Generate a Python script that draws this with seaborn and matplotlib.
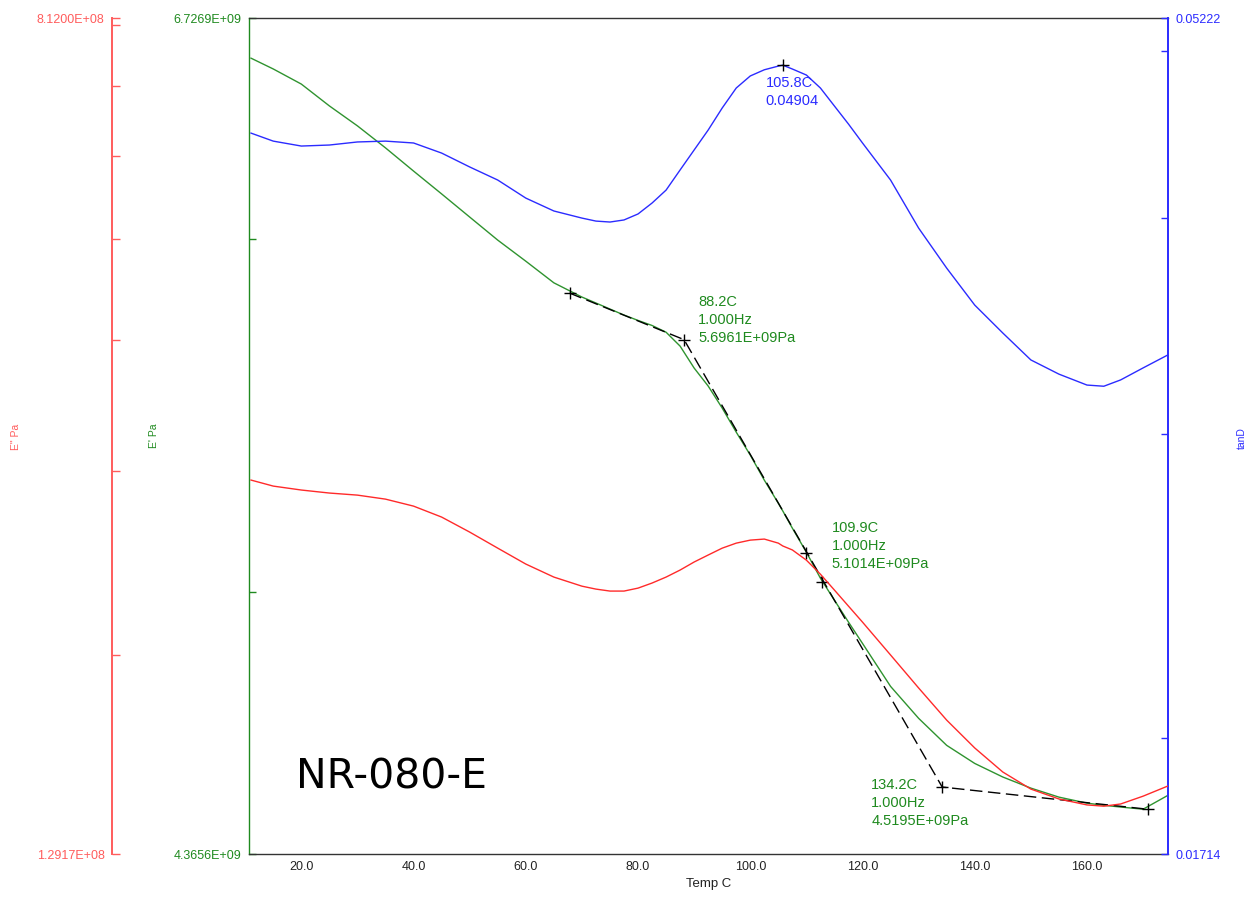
import matplotlib
matplotlib.use("Agg")
import matplotlib.pyplot as plt
import pandas as pd
import seaborn as sns
from matplotlib.ticker import FixedLocator, FixedFormatter, NullLocator

# ---------------- data ----------------
temp_c = [11, 15, 20, 25, 30, 35, 40, 45, 50, 55, 60, 65, 70, 72.5, 75, 77.5, 80,
          82.5, 85, 87.5, 90, 92.5, 95, 97.5, 100, 102.5, 105, 105.8, 107.5, 110,
          112.5, 115, 117.5, 120, 125, 130, 135, 140, 145, 150, 155, 160, 163, 166,
          170, 174.4]
storage_modulus_pa = [6.589e9, 6.552e9, 6.501e9, 6.428e9, 6.362e9, 6.290e9, 6.215e9,
                      6.142e9, 6.069e9, 5.997e9, 5.932e9, 5.866e9, 5.823e9, 5.805e9,
                      5.787e9, 5.769e9, 5.753e9, 5.738e9, 5.718e9, 5.677e9, 5.613e9,
                      5.561e9, 5.498e9, 5.430e9, 5.366e9, 5.297e9, 5.234e9, 5.213e9,
                      5.167e9, 5.103e9, 5.035e9, 4.978e9, 4.922e9, 4.868e9, 4.761e9,
                      4.683e9, 4.618e9, 4.575e9, 4.543e9, 4.517e9, 4.496e9, 4.482e9,
                      4.477e9, 4.473e9, 4.468e9, 4.500e9]
loss_modulus_pa = [2.940e8, 2.901e8, 2.876e8, 2.857e8, 2.844e8, 2.819e8, 2.776e8,
                   2.710e8, 2.622e8, 2.531e8, 2.444e8, 2.375e8, 2.328e8, 2.313e8,
                   2.303e8, 2.303e8, 2.318e8, 2.344e8, 2.375e8, 2.412e8, 2.455e8,
                   2.493e8, 2.531e8, 2.559e8, 2.576e8, 2.582e8, 2.559e8, 2.543e8,
                   2.521e8, 2.465e8, 2.390e8, 2.308e8, 2.228e8, 2.151e8, 2.001e8,
                   1.861e8, 1.734e8, 1.631e8, 1.547e8, 1.490e8, 1.458e8, 1.439e8,
                   1.435e8, 1.442e8, 1.467e8, 1.500e8]
tan_delta = [0.04480, 0.04432, 0.04403, 0.04409, 0.04427, 0.04432, 0.04421, 0.04362,
             0.04282, 0.04208, 0.04108, 0.04038, 0.04000, 0.03984, 0.03979, 0.03990,
             0.04022, 0.04081, 0.04152, 0.04265, 0.04380, 0.04498, 0.04632, 0.04757,
             0.04834, 0.04874, 0.04898, 0.04904, 0.04879, 0.04840, 0.04757, 0.04644,
             0.04534, 0.04421, 0.04208, 0.03947, 0.03742, 0.03562, 0.03432, 0.03311,
             0.03249, 0.03202, 0.03197, 0.03224, 0.03276, 0.03333]

# tangent-line onset construction on E'
onset_line_temp_c = [67.8, 88.2, 134.2, 170.8]
onset_line_pa = [5.835e9, 5.6961e9, 4.5195e9, 4.468e9]
marker_temp_c = [67.8, 88.2, 109.9, 112.8, 134.2, 170.8]
marker_pa = [5.835e9, 5.6961e9, 5.1014e9, 5.024e9, 4.5195e9, 4.468e9]
peak_temp_c = [105.8]
peak_tan = [0.04904]

onset_labels = ["88.2C\n1.000Hz\n5.6961E+09Pa",
                "109.9C\n1.000Hz\n5.1014E+09Pa",
                "134.2C\n1.000Hz\n4.5195E+09Pa"]
onset_label_temp_c = [88.2, 109.9, 134.2]
onset_label_pa = [5.6961e9, 5.1014e9, 4.5195e9]
peak_label = "105.8C\n0.04904"

x_limits = (10.73, 174.5)
x_ticks = [20, 40, 60, 80, 100, 120, 140, 160]
x_tick_labels = ["20.0", "40.0", "60.0", "80.0", "100.0", "120.0", "140.0", "160.0"]
storage_limits = (4.3656e9, 6.7269e9)
storage_ticks = [4.3656e9, 5e9, 6e9, 6.7269e9]
storage_tick_labels = ["4.3656E+09", "", "", "6.7269E+09"]
loss_limits = (1.2917e8, 8.12e8)
loss_ticks = [1.2917e8, 2e8, 3e8, 4e8, 5e8, 6e8, 7e8, 8e8, 8.12e8]
loss_tick_labels = ["1.2917E+08", "", "", "", "", "", "", "", "8.1200E+08"]
tan_limits = (0.01714, 0.05222)
tan_ticks = [0.01714, 0.02, 0.03, 0.04, 0.05, 0.05222]
tan_tick_labels = ["0.01714", "", "", "", "", "0.05222"]
sample_name = "NR-080-E"

# ---------------- style ----------------
sns.set_style("white")
plt.rcParams['font.family'] = ['Liberation Sans', 'DejaVu Sans']

RED_AX = '#ff5c5c'
RED = '#ff2a2a'
GREEN = '#1f8a1f'
GREEN_LINE = '#2f932f'
BLUE = '#2b2bff'
DARK = '#333333'

df = pd.DataFrame({"temp": temp_c, "storage": storage_modulus_pa,
                   "loss": loss_modulus_pa, "tan": tan_delta})

fig = plt.figure(figsize=(12.54, 8.97), dpi=100)
ax = fig.add_axes([0.1988, 0.0479, 0.7329, 0.932])
ax_tan = ax.twinx()
ax_loss = ax.twinx()

for a in (ax, ax_tan, ax_loss):
    a.set_yscale('log')

# curves
sns.lineplot(data=df, x="temp", y="storage", ax=ax, color=GREEN_LINE, lw=1.0,
             sort=False, estimator=None)
sns.lineplot(data=df, x="temp", y="tan", ax=ax_tan, color=BLUE, lw=1.0,
             sort=False, estimator=None)
sns.lineplot(data=df, x="temp", y="loss", ax=ax_loss, color=RED, lw=1.0,
             sort=False, estimator=None)

# onset construction
ax.plot(onset_line_temp_c, onset_line_pa, color='black', lw=1.0,
        linestyle=(0, (9, 4)), zorder=3)
ax.plot(marker_temp_c, marker_pa, linestyle='none', marker='+', color='black',
        markersize=9, mew=1.0, zorder=4)
ax_tan.plot(peak_temp_c, peak_tan, linestyle='none', marker='+', color='black',
            markersize=9, mew=1.0, zorder=4)

# annotations
offsets = [(14, 45), (26, 32), (-71, 9)]
for lbl, t, v, off in zip(onset_labels, onset_label_temp_c, onset_label_pa, offsets):
    ax.annotate(lbl, xy=(t, v), xytext=off, textcoords='offset pixels',
                ha='left', va='top', color=GREEN, fontsize=10.5, linespacing=1.36)
ax_tan.annotate(peak_label, xy=(peak_temp_c[0], peak_tan[0]), xytext=(-17, -11),
                textcoords='offset pixels', ha='left', va='top', color=BLUE,
                fontsize=10.5, linespacing=1.36)

ax.text(0.0508, 0.078, sample_name, transform=ax.transAxes, ha='left',
        va='baseline', fontsize=29.5, color='black', family='DejaVu Sans')

# x axis
ax.set_xlim(*x_limits)
ax.set_xticks(x_ticks)
ax.set_xticklabels(x_tick_labels)
ax.tick_params(axis='x', direction='in', length=6, width=1, color=DARK,
               labelsize=9, labelcolor='#222222', pad=5, top=False)
ax.set_xlabel("")
fig.text(0.5652, 0.0145, "Temp C", ha='center', va='center', fontsize=9.5,
         color='#222222')

# green (E') axis
ax.set_ylim(*storage_limits)
ax.yaxis.set_major_locator(FixedLocator(storage_ticks))
ax.yaxis.set_major_formatter(FixedFormatter(storage_tick_labels))
ax.yaxis.set_minor_locator(NullLocator())
ax.tick_params(axis='y', which='major', direction='in', length=5, width=1,
               color=GREEN, labelcolor=GREEN, labelsize=9, pad=5.5,
               left=True, right=False)
ax.set_ylabel("")
for s in ('top', 'bottom'):
    ax.spines[s].set_color(DARK)
    ax.spines[s].set_linewidth(1.0)
ax.spines['left'].set_color(GREEN)
ax.spines['left'].set_linewidth(1.0)
ax.spines['right'].set_visible(False)

# blue (tanD) axis
ax_tan.set_ylim(*tan_limits)
ax_tan.yaxis.set_major_locator(FixedLocator(tan_ticks))
ax_tan.yaxis.set_major_formatter(FixedFormatter(tan_tick_labels))
ax_tan.yaxis.set_minor_locator(NullLocator())
ax_tan.tick_params(axis='y', which='major', direction='in', length=5, width=1,
                   color=BLUE, labelcolor=BLUE, labelsize=9, pad=5.5,
                   left=False, right=True, labelleft=False, labelright=True)
ax_tan.set_ylabel("")
for s in ('top', 'bottom', 'left'):
    ax_tan.spines[s].set_visible(False)
ax_tan.spines['right'].set_color(BLUE)
ax_tan.spines['right'].set_linewidth(1.4)

# red (E") axis
ax_loss.set_ylim(*loss_limits)
ax_loss.spines['left'].set_position(('axes', -0.1491))
ax_loss.spines['left'].set_visible(True)
ax_loss.yaxis.set_ticks_position('left')
ax_loss.yaxis.set_label_position('left')
ax_loss.yaxis.set_major_locator(FixedLocator(loss_ticks))
ax_loss.yaxis.set_major_formatter(FixedFormatter(loss_tick_labels))
ax_loss.yaxis.set_minor_locator(NullLocator())
ax_loss.tick_params(axis='y', which='major', direction='in', length=6, width=1,
                    color=RED_AX, labelcolor=RED_AX, labelsize=9, pad=5.5,
                    left=True, right=False, labelleft=True, labelright=False)
ax_loss.set_ylabel("")
for s in ('top', 'bottom', 'right'):
    ax_loss.spines[s].set_visible(False)
ax_loss.spines['left'].set_color(RED_AX)
ax_loss.spines['left'].set_linewidth(1.4)

for a in (ax, ax_tan, ax_loss):
    a.grid(False)

# axis titles
fig.text(16 / 1254, 1 - 437 / 897, 'E" Pa', rotation=90, ha='center', va='center',
         fontsize=7.5, color=RED_AX)
fig.text(154 / 1254, 1 - 436 / 897, "E' Pa", rotation=90, ha='center', va='center',
         fontsize=7.5, color=GREEN)
fig.text(1242 / 1254, 1 - 438 / 897, "tanD", rotation=90, ha='center', va='center',
         fontsize=7.5, color=BLUE)

fig.savefig("out.png", dpi=100)
